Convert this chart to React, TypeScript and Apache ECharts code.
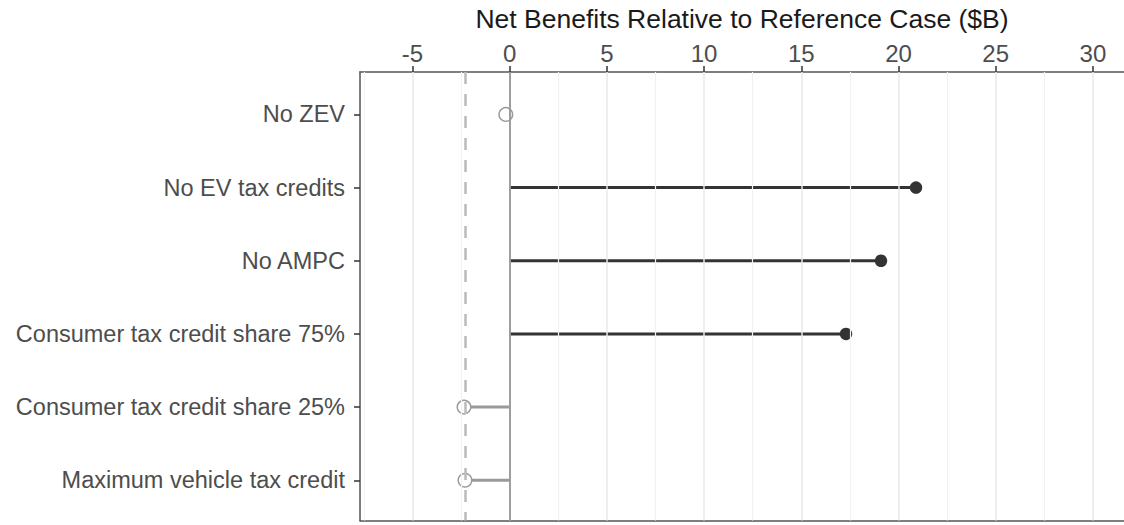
import React, { useEffect, useRef } from "react";
import * as echarts from "echarts";

const categories = [
  "No ZEV",
  "No EV tax credits",
  "No AMPC",
  "Consumer tax credit share 75%",
  "Consumer tax credit share 25%",
  "Maximum vehicle tax credit",
];
const netBenefits = [-0.2, 20.9, 19.1, 17.3, -2.35, -2.3];
const referenceLine = -2.3;
const majorTicks = [-5, 0, 5, 10, 15, 20, 25, 30];
const minorTicks = [-7.5, -2.5, 2.5, 7.5, 12.5, 17.5, 22.5, 27.5];
const xTitle = "Net Benefits Relative to Reference Case ($B)";

const FONT = "'Liberation Sans', Arial, Helvetica, sans-serif";

export default function App() {
  const ref = useRef<HTMLDivElement>(null);
  useEffect(() => {
    document.body.style.margin = "0";
    const chart = echarts.init(ref.current!, null, { renderer: "svg" });
    const rowIdx = categories.map((_, i) => i);
    const xMin = -7.7;
    const xMax = 31.6;
    const option: any = {
      animation: false,
      textStyle: { fontFamily: FONT },
      grid: { left: 360, right: 0, top: 71, bottom: 4.5, containLabel: false },
      xAxis: [
        {
          type: "value",
          position: "top",
          min: xMin,
          max: xMax,
          name: xTitle,
          nameLocation: "middle",
          nameGap: 40,
          nameTextStyle: { color: "#1a1a1a", fontSize: 26.5, fontFamily: FONT },
          axisLine: { show: true, onZero: false, lineStyle: { color: "#555555", width: 1.5 } },
          axisTick: {
            show: true,
            customValues: majorTicks,
            length: 6,
            lineStyle: { color: "#333333", width: 1.5 },
          },
          axisLabel: {
            customValues: majorTicks,
            color: "#4d4d4d",
            fontSize: 24,
            margin: 6.5,
            fontFamily: FONT,
          },
          splitLine: { show: false },
        },
        {
          type: "value",
          position: "bottom",
          min: xMin,
          max: xMax,
          axisLine: { show: true, onZero: false, lineStyle: { color: "#555555", width: 1.5 } },
          axisTick: { show: false },
          axisLabel: { show: false },
          splitLine: { show: false },
        },
      ],
      yAxis: {
        type: "value",
        inverse: true,
        min: -0.58,
        max: 5.55,
        axisLine: { show: true, onZero: false, lineStyle: { color: "#555555", width: 1.5 } },
        axisTick: {
          show: true,
          customValues: rowIdx,
          length: 6,
          lineStyle: { color: "#333333", width: 1.5 },
        },
        axisLabel: {
          customValues: rowIdx,
          formatter: (v: number) => categories[Math.round(v)] ?? "",
          color: "#4d4d4d",
          fontSize: 23.5,
          margin: 15,
          fontFamily: FONT,
        },
        splitLine: { show: false },
      },
      series: [
        {
          type: "scatter",
          xAxisIndex: 0,
          data: [],
          silent: true,
          markLine: {
            silent: true,
            symbol: "none",
            label: { show: false },
            data: [
              ...minorTicks.map((v) => ({
                xAxis: v,
                lineStyle: { color: "#f2f2f2", width: 1.2, type: "solid" },
              })),
              ...majorTicks.map((v) => ({
                xAxis: v,
                lineStyle: { color: "#e8e8e8", width: 1.5, type: "solid" },
              })),
            ],
          },
          z: 1,
        },
        {
          type: "scatter",
          xAxisIndex: 0,
          data: [],
          silent: true,
          markLine: {
            silent: true,
            symbol: "none",
            label: { show: false },
            data: [
              { xAxis: 0, lineStyle: { color: "#8a8a8a", width: 1.6, type: "solid" } },
              {
                xAxis: referenceLine,
                lineStyle: { color: "#bbbbbb", width: 2.5, type: [12, 10] },
              },
            ],
          },
          z: 2,
        },
        {
          type: "custom",
          xAxisIndex: 0,
          z: 3,
          silent: true,
          data: netBenefits.map((v, i) => [v, i]),
          renderItem: (params: any, api: any) => {
            const v = api.value(0);
            const i = api.value(1);
            const p0 = api.coord([0, i]);
            const p1 = api.coord([v, i]);
            return {
              type: "line",
              shape: { x1: p0[0], y1: p0[1], x2: p1[0], y2: p1[1] },
              style: { stroke: v >= 0 ? "#333333" : "#9a9a9a", lineWidth: 3 },
            };
          },
        },
        {
          type: "scatter",
          xAxisIndex: 0,
          z: 4,
          silent: true,
          data: netBenefits.map((v, i) => ({
            value: [v, i],
            symbolSize: v >= 0 ? 12.5 : 13.5,
            itemStyle:
              v >= 0
                ? { color: "#333333", borderWidth: 0, opacity: 1 }
                : { color: "#ffffff", borderColor: "#9a9a9a", borderWidth: 1.5, opacity: 1 },
          })),
        },
      ],
    };
    chart.setOption(option);
    return () => chart.dispose();
  }, []);
  return <div ref={ref} style={{ width: 1124, height: 525 }} />;
}
